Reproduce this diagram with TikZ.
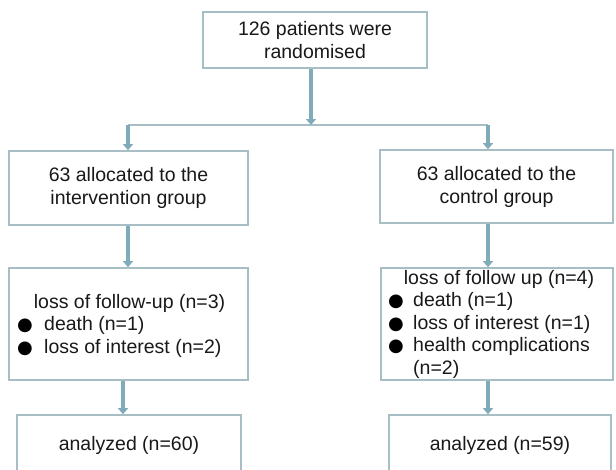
\documentclass[tikz,border=0pt]{standalone}
\usepackage{fontspec}
\setmainfont{Liberation Sans}
\newfontfamily\dejavu{DejaVu Sans}
\usetikzlibrary{arrows.meta}
\definecolor{boxc}{RGB}{168,190,197}
\definecolor{arrc}{RGB}{128,172,186}
\definecolor{txt}{RGB}{25,25,25}
\begin{document}
\begin{tikzpicture}[x=1pt,y=-1pt,
  every node/.style={font=\fontsize{19.5}{23}\selectfont, text=txt},
  box/.style={draw=boxc, line width=1.6pt, fill=white, inner sep=0pt, align=center},
  lbl/.style={inner sep=0pt, anchor=base west},
  bul/.style={inner sep=0pt, anchor=base west, font=\dejavu\fontsize{18}{20}\selectfont, text=black},
  ctr/.style={inner sep=0pt, anchor=base},
  conn/.style={draw=arrc, line width=4pt, -{Triangle[width=10pt,length=6pt]}},
  hline/.style={draw=boxc, line width=1.5pt}]
\clip (0,0) rectangle (616,469);
\fill[white] (0,0) rectangle (616,469);
% boxes
\node[box, minimum width=224pt, minimum height=56pt] (top) at (315,40) {126 patients were\\randomised};
\node[box, minimum width=239pt, minimum height=74pt] (L2) at (128.5,188) {63 allocated to the\\intervention group};
\node[box, minimum width=233pt, minimum height=73pt] (R2) at (496.5,186.5) {63 allocated to the\\control group};
\node[box, minimum width=239pt, minimum height=112pt] (L3) at (128.5,324) {};
\node[box, minimum width=232pt, minimum height=112pt] (R3) at (497,324) {};
\node[box, minimum width=224pt, minimum height=60pt] (AL) at (129,445) {analyzed (n=60)};
\node[box, minimum width=222pt, minimum height=60pt] (AR) at (500,445) {analyzed (n=59)};
% texts of L3
\node[ctr] (l3t) at (129.5,308) {loss of follow-up (n=3)};
\node[bul] (l3b1) at (17,330.5) {●};
\node[lbl] (l3x1) at (44,330.5) {death (n=1)};
\node[bul] (l3b2) at (17,353) {●};
\node[lbl] (l3x2) at (44,353) {loss of interest (n=2)};
% texts of R3
\node[ctr] (r3t) at (499,284) {loss of follow up (n=4)};
\node[bul] (r3b1) at (388,306.5) {●};
\node[lbl] (r3x1) at (413,306.5) {death (n=1)};
\node[bul] (r3b2) at (388,329) {●};
\node[lbl] (r3x2) at (413,329) {loss of interest (n=1)};
\node[bul] (r3b3) at (388,351.5) {●};
\node[lbl] (r3x3) at (413,351.5) {health complications};
\node[lbl] (r3x4) at (413,374) {(n=2)};
% connectors
\coordinate (j) at (311,125);
\coordinate (jl) at (128,125);
\coordinate (jr) at (488,125);
\coordinate (xa) at (123,0);
\draw[hline] (jl) -- (jr);
\draw[conn] (top.south -| j) -- (j);
\draw[conn] (jl) -- (jl |- L2.north);
\draw[conn] (jr) -- (jr |- R2.north);
\draw[conn] (L2.south -| jl) -- (L3.north -| jl);
\draw[conn] (R2.south -| jr) -- (R3.north -| jr);
\draw[conn] (L3.south -| xa) -- (AL.north -| xa);
\draw[conn] (R3.south -| jr) -- (AR.north -| jr);
\end{tikzpicture}
\end{document}
